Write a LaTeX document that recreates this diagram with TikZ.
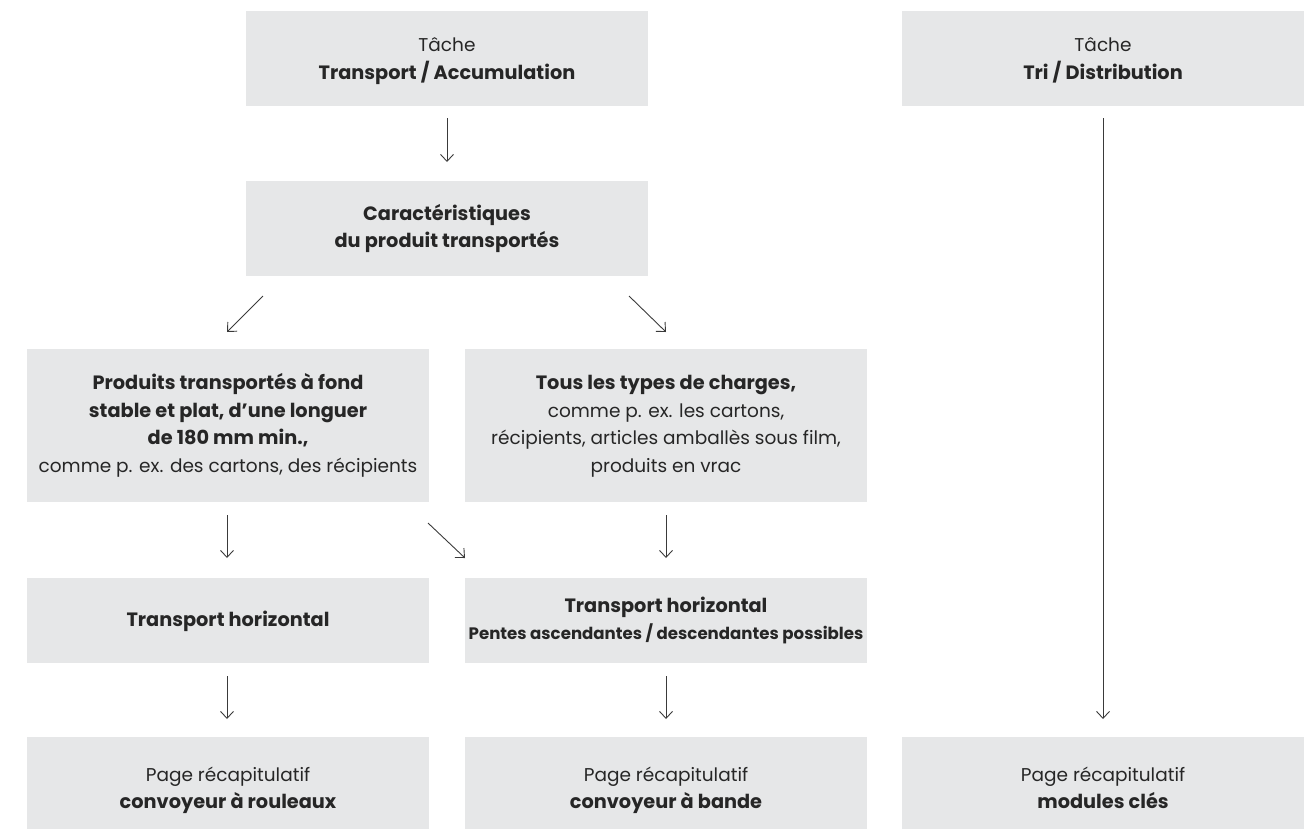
\documentclass[tikz,border=0pt]{standalone}
\usepackage{fontspec}
\setmainfont{Poppins}
\usetikzlibrary{arrows.meta}
\definecolor{boxgray}{HTML}{E6E7E8}
\definecolor{ink}{HTML}{262626}
\definecolor{arrowgray}{HTML}{3A3A3A}
\newcommand{\bt}[1]{{\fontsize{19.3}{27.5}\selectfont\bfseries #1}}
\begin{document}
\begin{tikzpicture}[x=1pt,y=-1pt,
  box/.style={fill=boxgray, draw=none, inner sep=0pt, text=ink, align=center,
    font=\fontsize{18.5}{27.5}\selectfont},
  flow/.style={draw=arrowgray, line width=0.9pt,
    -{Straight Barb[length=7pt,width=13pt,line width=0.9pt]}}]
\useasboundingbox (0,0) rectangle (1313,828);
\clip (0,0) rectangle (1313,828);
% gray panel #1 from (#2,#3) to (#4,#5), label centred at height #6
\newcommand{\gbox}[7]{%
  \fill[boxgray] (#2,#3) rectangle (#4,#5);
  \node[box] (#1) at ({(#2+#4)/2},#6) {#7};}
\gbox{task1}{246}{11}{648}{106}{60}{\strut Tâche\\\bt{Transport / Accumulation}\strut}
\gbox{task2}{902}{11}{1304}{106}{60}{\strut Tâche\\\bt{Tri / Distribution}\strut}
\gbox{feat}{246}{181}{648}{276}{228.5}{\strut\bt{Caractéristiques}\\\bt{du produit transportés}\strut}
\gbox{flat}{27}{349}{429}{502}{425.5}{\strut\bt{Produits transportés à fond}\\\bt{stable et plat, d’une longuer}\\\bt{de 180 mm min.,}\\comme p. ex. des cartons, des récipients\strut}
\gbox{all}{465}{349}{867}{502}{425.5}{\strut\bt{Tous les types de charges,}\\comme p. ex. les cartons,\\récipients, articles amballès sous film,\\produits en vrac\strut}
\gbox{horiz}{27}{578}{429}{663}{620.5}{\strut\bt{Transport horizontal}\strut}
\gbox{slope}{465}{578}{867}{663}{620.5}{\strut\bt{Transport horizontal}\\{\fontsize{16.6}{27.5}\selectfont\bfseries Pentes ascendantes / descendantes possibles}\strut}
\gbox{roll}{27}{737}{429}{842}{789.5}{\strut Page récapitulatif\\\bt{convoyeur à rouleaux}\strut}
\gbox{belt}{465}{737}{867}{842}{789.5}{\strut Page récapitulatif\\\bt{convoyeur à bande}\strut}
\gbox{keys}{902}{737}{1304}{842}{789.5}{\strut Page récapitulatif\\\bt{modules clés}\strut}
% arrow end points
\coordinate (a1s) at (447,118); \coordinate (a1e) at (447,162);
\coordinate (a2s) at (263,296); \coordinate (a2e) at (227,332);
\coordinate (a3s) at (629,296); \coordinate (a3e) at (666,332);
\coordinate (a4s) at (227,515); \coordinate (a4e) at (227,558);
\coordinate (a5s) at (428,523); \coordinate (a5e) at (465,558);
\coordinate (a6s) at (666,515); \coordinate (a6e) at (666,558);
\coordinate (a7s) at (227,676); \coordinate (a7e) at (227,719);
\coordinate (a8s) at (666,676); \coordinate (a8e) at (666,719);
\coordinate (a9s) at (1103,118); \coordinate (a9e) at (1103,719);
\foreach \i in {1,...,9} \draw[flow] (a\i s) -- (a\i e);
\end{tikzpicture}
\end{document}
